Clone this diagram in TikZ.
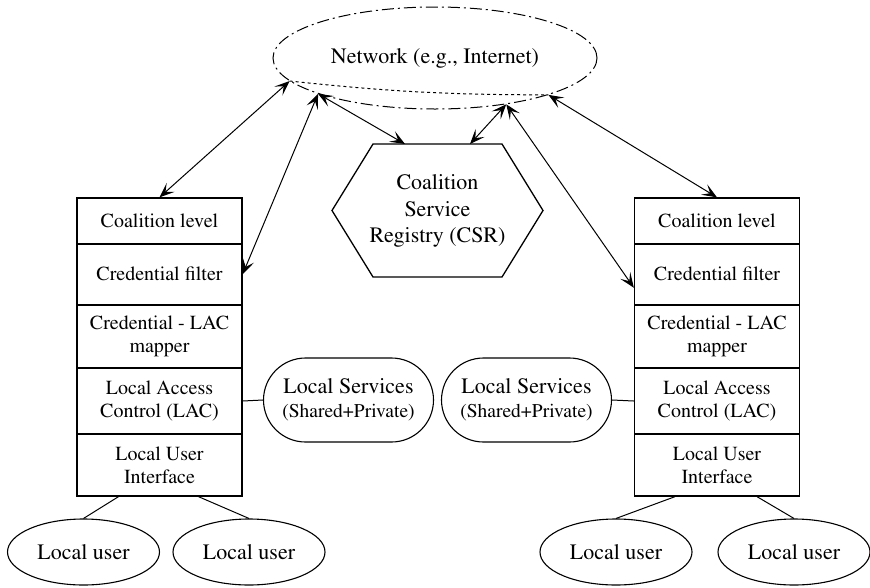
\documentclass[tikz,border=0pt]{standalone}
\usepackage[T1]{fontenc}
\renewcommand{\rmdefault}{ptm}
\usetikzlibrary{shapes.geometric,shapes.misc,arrows.meta,calc}

\begin{document}
\begin{tikzpicture}[x=1pt,y=-1pt,
  layer/.style={draw, line width=1.3pt, minimum width=165pt, inner sep=0pt,
    align=center, font=\fontsize{20}{23}\selectfont},
  svc/.style={draw, rounded rectangle, line width=1.1pt, minimum width=170pt,
    minimum height=84pt, inner sep=0pt, align=center, font=\fontsize{22}{24}\selectfont},
  usr/.style={draw, ellipse, line width=1.1pt, minimum width=152pt,
    minimum height=66pt, inner sep=0pt, font=\fontsize{22}{26}\selectfont},
  tip/.style={Stealth[length=15pt,width=12pt,inset=7pt]},
  link/.style={line width=1pt, {Stealth[length=15pt,width=12pt,inset=7pt]}-{Stealth[length=15pt,width=12pt,inset=7pt]}},
  plain/.style={line width=1pt}]
\useasboundingbox (0,0) rectangle (870,587);

% network cloud
\node[ellipse, draw, line width=1pt, dash pattern=on 12pt off 4pt on 2pt off 4pt,
  minimum width=324pt, minimum height=102pt, inner sep=0pt,
  font=\fontsize{22}{26}\selectfont] (net) at (435,58) {Network (e.g., Internet)};
\draw[line width=1pt, dash pattern=on 3pt off 3pt] (net.189.5) to[bend right=3] (net.342.6);

% coalition service registry
\node[align=center, font=\fontsize{22}{26.5}\selectfont] (csr) at (437.5,211) {Coalition\\Service\\Registry (CSR)};
\draw[line width=1.3pt] (373,144) -- (502,144) -- (543,210.5) -- (502,277) -- (373,277) -- (332,210.5) -- cycle;
\coordinate (csrL) at (405,144);
\coordinate (csrR) at (470,144);

% left stack
\node[layer, minimum height=46pt]   (cl1)  at (159.5,221)    {Coalition level};
\node[layer, minimum height=60.5pt] (cf1)  at (159.5,274.25) {Credential filter};
\node[layer, minimum height=62.5pt] (map1) at (159.5,336.75) {Credential - LAC\\mapper};
\node[layer, minimum height=66pt]   (lac1) at (159.5,401)    {Local Access\\Control (LAC)};
\node[layer, minimum height=62pt]   (lui1) at (159.5,465)    {Local User\\Interface};

% right stack
\node[layer, minimum height=46pt]   (cl2)  at (717,221)    {Coalition level};
\node[layer, minimum height=60.5pt] (cf2)  at (717,274.25) {Credential filter};
\node[layer, minimum height=62.5pt] (map2) at (717,336.75) {Credential - LAC\\mapper};
\node[layer, minimum height=66pt]   (lac2) at (717,401)    {Local Access\\Control (LAC)};
\node[layer, minimum height=62pt]   (lui2) at (717,465)    {Local User\\Interface};

% local services
\node[svc] (ls1) at (348.5,400) {Local Services\\{\fontsize{19.5}{22}\selectfont (Shared+Private)}};
\node[svc] (ls2) at (526.5,400) {Local Services\\{\fontsize{19.5}{22}\selectfont (Shared+Private)}};
\draw[plain] (lac1.east) -- (ls1.west);
\draw[plain] (ls2.east) -- (lac2.west);

% local users
\node[usr] (u1) at (83.5,552) {Local user};
\node[usr] (u2) at (249,552)  {Local user};
\node[usr] (u3) at (616,552)  {Local user};
\node[usr] (u4) at (794,552)  {Local user};
\draw[plain] ($(lui1.south)+(-41,0)$) -- (u1.north);
\draw[plain] ($(lui1.south)+(39,0)$)  -- (u2.north);
\draw[plain] ($(lui2.south)+(-42,0)$) -- (u3.north);
\draw[plain] ($(lui2.south)+(40,0)$)  -- (u4.north);

% network links
\coordinate (cf2in) at ($(cf2.west)+(0,13.5)$);
\draw[link] (net.189.3) -- (cl1.north);
\draw[link] (net.197.8) -- (cf1.east);
\draw[link] (net.197.8) -- (csrL);
\draw[link] (net.327.9) -- (csrR);
\draw[link] (net.327.9) -- (cf2in);
\draw[link] (net.342.6) -- (cl2.north);
\end{tikzpicture}
\end{document}
